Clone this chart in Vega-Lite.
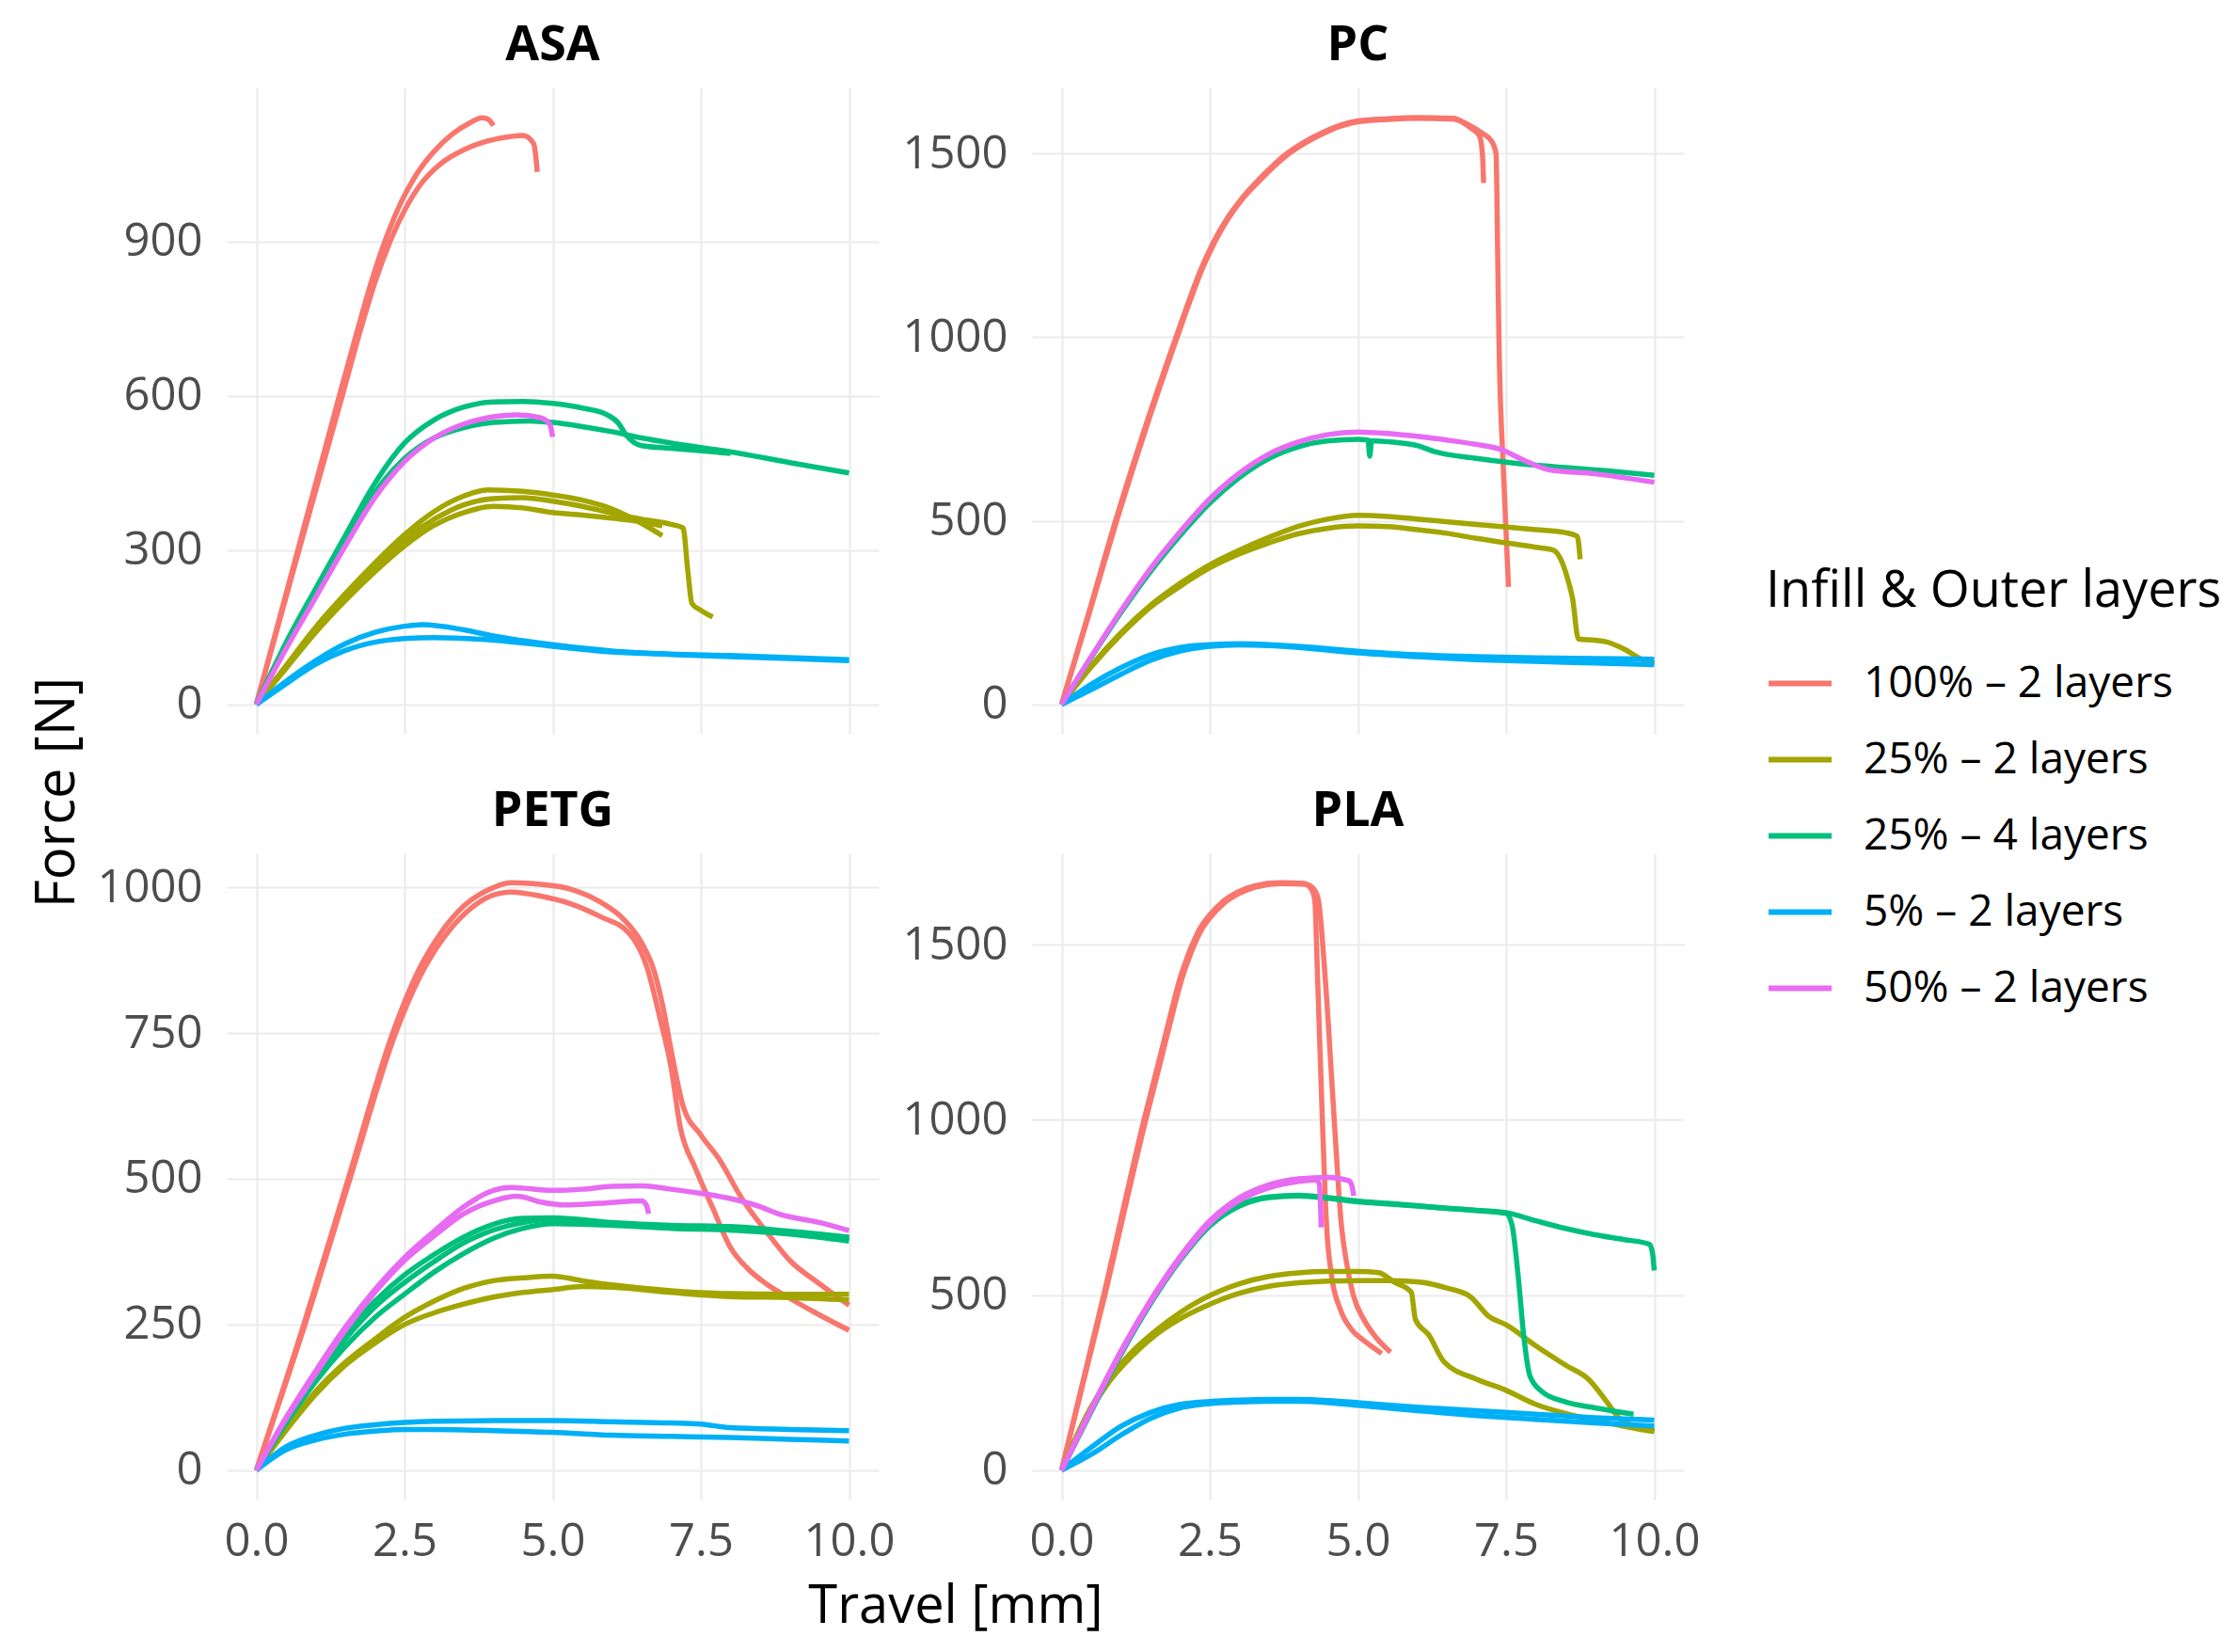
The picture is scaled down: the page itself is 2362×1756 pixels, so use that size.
{
  "$schema": "https://vega.github.io/schema/vega-lite/v6.json",
  "background": "white",
  "padding": {"left": 32, "top": 22, "right": 5, "bottom": 5},
  "data": {
    "values": [
      {"m":"ASA","g":"100% – 2 layers","r":1,"x":0,"y":0},
      {"m":"ASA","g":"100% – 2 layers","r":1,"x":0.7,"y":300},
      {"m":"ASA","g":"100% – 2 layers","r":1,"x":1.4,"y":600},
      {"m":"ASA","g":"100% – 2 layers","r":1,"x":1.7,"y":725},
      {"m":"ASA","g":"100% – 2 layers","r":1,"x":1.95,"y":825},
      {"m":"ASA","g":"100% – 2 layers","r":1,"x":2.2,"y":910},
      {"m":"ASA","g":"100% – 2 layers","r":1,"x":2.45,"y":978},
      {"m":"ASA","g":"100% – 2 layers","r":1,"x":2.7,"y":1030},
      {"m":"ASA","g":"100% – 2 layers","r":1,"x":3,"y":1075},
      {"m":"ASA","g":"100% – 2 layers","r":1,"x":3.3,"y":1108},
      {"m":"ASA","g":"100% – 2 layers","r":1,"x":3.6,"y":1130},
      {"m":"ASA","g":"100% – 2 layers","r":1,"x":3.8,"y":1140},
      {"m":"ASA","g":"100% – 2 layers","r":1,"x":3.9,"y":1138},
      {"m":"ASA","g":"100% – 2 layers","r":1,"x":4,"y":1125},
      {"m":"ASA","g":"100% – 2 layers","r":2,"x":0,"y":0},
      {"m":"ASA","g":"100% – 2 layers","r":2,"x":0.72,"y":300},
      {"m":"ASA","g":"100% – 2 layers","r":2,"x":1.45,"y":600},
      {"m":"ASA","g":"100% – 2 layers","r":2,"x":1.75,"y":725},
      {"m":"ASA","g":"100% – 2 layers","r":2,"x":2,"y":820},
      {"m":"ASA","g":"100% – 2 layers","r":2,"x":2.25,"y":898},
      {"m":"ASA","g":"100% – 2 layers","r":2,"x":2.5,"y":960},
      {"m":"ASA","g":"100% – 2 layers","r":2,"x":2.8,"y":1015},
      {"m":"ASA","g":"100% – 2 layers","r":2,"x":3.1,"y":1050},
      {"m":"ASA","g":"100% – 2 layers","r":2,"x":3.5,"y":1078},
      {"m":"ASA","g":"100% – 2 layers","r":2,"x":3.9,"y":1095},
      {"m":"ASA","g":"100% – 2 layers","r":2,"x":4.3,"y":1104},
      {"m":"ASA","g":"100% – 2 layers","r":2,"x":4.5,"y":1106},
      {"m":"ASA","g":"100% – 2 layers","r":2,"x":4.68,"y":1090},
      {"m":"ASA","g":"100% – 2 layers","r":2,"x":4.72,"y":1060},
      {"m":"ASA","g":"100% – 2 layers","r":2,"x":4.74,"y":1035},
      {"m":"ASA","g":"25% – 2 layers","r":1,"x":0,"y":0},
      {"m":"ASA","g":"25% – 2 layers","r":1,"x":0.5,"y":75},
      {"m":"ASA","g":"25% – 2 layers","r":1,"x":1,"y":150},
      {"m":"ASA","g":"25% – 2 layers","r":1,"x":1.5,"y":215},
      {"m":"ASA","g":"25% – 2 layers","r":1,"x":2,"y":275},
      {"m":"ASA","g":"25% – 2 layers","r":1,"x":2.5,"y":330},
      {"m":"ASA","g":"25% – 2 layers","r":1,"x":3,"y":375},
      {"m":"ASA","g":"25% – 2 layers","r":1,"x":3.5,"y":405},
      {"m":"ASA","g":"25% – 2 layers","r":1,"x":3.9,"y":417},
      {"m":"ASA","g":"25% – 2 layers","r":1,"x":4.5,"y":414},
      {"m":"ASA","g":"25% – 2 layers","r":1,"x":5,"y":407},
      {"m":"ASA","g":"25% – 2 layers","r":1,"x":5.5,"y":397},
      {"m":"ASA","g":"25% – 2 layers","r":1,"x":6,"y":380},
      {"m":"ASA","g":"25% – 2 layers","r":1,"x":6.5,"y":352},
      {"m":"ASA","g":"25% – 2 layers","r":1,"x":6.85,"y":328},
      {"m":"ASA","g":"25% – 2 layers","r":2,"x":0,"y":0},
      {"m":"ASA","g":"25% – 2 layers","r":2,"x":0.5,"y":72},
      {"m":"ASA","g":"25% – 2 layers","r":2,"x":1,"y":145},
      {"m":"ASA","g":"25% – 2 layers","r":2,"x":1.5,"y":210},
      {"m":"ASA","g":"25% – 2 layers","r":2,"x":2,"y":268},
      {"m":"ASA","g":"25% – 2 layers","r":2,"x":2.5,"y":320},
      {"m":"ASA","g":"25% – 2 layers","r":2,"x":3,"y":360},
      {"m":"ASA","g":"25% – 2 layers","r":2,"x":3.5,"y":388},
      {"m":"ASA","g":"25% – 2 layers","r":2,"x":4,"y":400},
      {"m":"ASA","g":"25% – 2 layers","r":2,"x":4.5,"y":402},
      {"m":"ASA","g":"25% – 2 layers","r":2,"x":5,"y":395},
      {"m":"ASA","g":"25% – 2 layers","r":2,"x":5.5,"y":385},
      {"m":"ASA","g":"25% – 2 layers","r":2,"x":6,"y":372},
      {"m":"ASA","g":"25% – 2 layers","r":2,"x":6.5,"y":360},
      {"m":"ASA","g":"25% – 2 layers","r":2,"x":7,"y":350},
      {"m":"ASA","g":"25% – 2 layers","r":2,"x":7.2,"y":343},
      {"m":"ASA","g":"25% – 2 layers","r":2,"x":7.28,"y":260},
      {"m":"ASA","g":"25% – 2 layers","r":2,"x":7.35,"y":196},
      {"m":"ASA","g":"25% – 2 layers","r":2,"x":7.5,"y":183},
      {"m":"ASA","g":"25% – 2 layers","r":2,"x":7.7,"y":170},
      {"m":"ASA","g":"25% – 2 layers","r":3,"x":0,"y":0},
      {"m":"ASA","g":"25% – 2 layers","r":3,"x":0.5,"y":70},
      {"m":"ASA","g":"25% – 2 layers","r":3,"x":1,"y":140},
      {"m":"ASA","g":"25% – 2 layers","r":3,"x":1.5,"y":202},
      {"m":"ASA","g":"25% – 2 layers","r":3,"x":2,"y":258},
      {"m":"ASA","g":"25% – 2 layers","r":3,"x":2.5,"y":308},
      {"m":"ASA","g":"25% – 2 layers","r":3,"x":3,"y":348},
      {"m":"ASA","g":"25% – 2 layers","r":3,"x":3.5,"y":373},
      {"m":"ASA","g":"25% – 2 layers","r":3,"x":4,"y":385},
      {"m":"ASA","g":"25% – 2 layers","r":3,"x":4.5,"y":382},
      {"m":"ASA","g":"25% – 2 layers","r":3,"x":5,"y":373},
      {"m":"ASA","g":"25% – 2 layers","r":3,"x":5.5,"y":368},
      {"m":"ASA","g":"25% – 2 layers","r":3,"x":6,"y":362},
      {"m":"ASA","g":"25% – 2 layers","r":3,"x":6.5,"y":355},
      {"m":"ASA","g":"25% – 2 layers","r":3,"x":6.85,"y":347},
      {"m":"ASA","g":"25% – 4 layers","r":1,"x":0,"y":0},
      {"m":"ASA","g":"25% – 4 layers","r":1,"x":0.5,"y":120},
      {"m":"ASA","g":"25% – 4 layers","r":1,"x":1,"y":225},
      {"m":"ASA","g":"25% – 4 layers","r":1,"x":1.5,"y":328},
      {"m":"ASA","g":"25% – 4 layers","r":1,"x":2,"y":430},
      {"m":"ASA","g":"25% – 4 layers","r":1,"x":2.5,"y":508},
      {"m":"ASA","g":"25% – 4 layers","r":1,"x":3,"y":553},
      {"m":"ASA","g":"25% – 4 layers","r":1,"x":3.5,"y":578},
      {"m":"ASA","g":"25% – 4 layers","r":1,"x":4,"y":588},
      {"m":"ASA","g":"25% – 4 layers","r":1,"x":4.5,"y":589},
      {"m":"ASA","g":"25% – 4 layers","r":1,"x":5,"y":585},
      {"m":"ASA","g":"25% – 4 layers","r":1,"x":5.5,"y":576},
      {"m":"ASA","g":"25% – 4 layers","r":1,"x":5.9,"y":564},
      {"m":"ASA","g":"25% – 4 layers","r":1,"x":6.1,"y":548},
      {"m":"ASA","g":"25% – 4 layers","r":1,"x":6.25,"y":522},
      {"m":"ASA","g":"25% – 4 layers","r":1,"x":6.5,"y":503},
      {"m":"ASA","g":"25% – 4 layers","r":1,"x":7,"y":498},
      {"m":"ASA","g":"25% – 4 layers","r":1,"x":8,"y":488},
      {"m":"ASA","g":"25% – 4 layers","r":2,"x":0,"y":0},
      {"m":"ASA","g":"25% – 4 layers","r":2,"x":0.5,"y":115},
      {"m":"ASA","g":"25% – 4 layers","r":2,"x":1,"y":215},
      {"m":"ASA","g":"25% – 4 layers","r":2,"x":1.5,"y":315},
      {"m":"ASA","g":"25% – 4 layers","r":2,"x":2,"y":412},
      {"m":"ASA","g":"25% – 4 layers","r":2,"x":2.5,"y":478},
      {"m":"ASA","g":"25% – 4 layers","r":2,"x":3,"y":518},
      {"m":"ASA","g":"25% – 4 layers","r":2,"x":3.5,"y":538},
      {"m":"ASA","g":"25% – 4 layers","r":2,"x":4,"y":548},
      {"m":"ASA","g":"25% – 4 layers","r":2,"x":4.6,"y":551},
      {"m":"ASA","g":"25% – 4 layers","r":2,"x":5,"y":548},
      {"m":"ASA","g":"25% – 4 layers","r":2,"x":5.5,"y":540},
      {"m":"ASA","g":"25% – 4 layers","r":2,"x":6,"y":530},
      {"m":"ASA","g":"25% – 4 layers","r":2,"x":6.5,"y":518},
      {"m":"ASA","g":"25% – 4 layers","r":2,"x":7,"y":508},
      {"m":"ASA","g":"25% – 4 layers","r":2,"x":8,"y":491},
      {"m":"ASA","g":"25% – 4 layers","r":2,"x":9,"y":470},
      {"m":"ASA","g":"25% – 4 layers","r":2,"x":10,"y":450},
      {"m":"ASA","g":"5% – 2 layers","r":1,"x":0,"y":0},
      {"m":"ASA","g":"5% – 2 layers","r":1,"x":0.5,"y":45},
      {"m":"ASA","g":"5% – 2 layers","r":1,"x":1,"y":85},
      {"m":"ASA","g":"5% – 2 layers","r":1,"x":1.5,"y":118},
      {"m":"ASA","g":"5% – 2 layers","r":1,"x":2,"y":140},
      {"m":"ASA","g":"5% – 2 layers","r":1,"x":2.5,"y":152},
      {"m":"ASA","g":"5% – 2 layers","r":1,"x":2.8,"y":155},
      {"m":"ASA","g":"5% – 2 layers","r":1,"x":3.5,"y":145},
      {"m":"ASA","g":"5% – 2 layers","r":1,"x":4,"y":133},
      {"m":"ASA","g":"5% – 2 layers","r":1,"x":5,"y":116},
      {"m":"ASA","g":"5% – 2 layers","r":1,"x":6,"y":104},
      {"m":"ASA","g":"5% – 2 layers","r":1,"x":7,"y":98},
      {"m":"ASA","g":"5% – 2 layers","r":1,"x":8,"y":95},
      {"m":"ASA","g":"5% – 2 layers","r":1,"x":9,"y":91},
      {"m":"ASA","g":"5% – 2 layers","r":1,"x":10,"y":87},
      {"m":"ASA","g":"5% – 2 layers","r":2,"x":0,"y":0},
      {"m":"ASA","g":"5% – 2 layers","r":2,"x":0.5,"y":40},
      {"m":"ASA","g":"5% – 2 layers","r":2,"x":1,"y":78},
      {"m":"ASA","g":"5% – 2 layers","r":2,"x":1.5,"y":105},
      {"m":"ASA","g":"5% – 2 layers","r":2,"x":2,"y":121},
      {"m":"ASA","g":"5% – 2 layers","r":2,"x":2.5,"y":128},
      {"m":"ASA","g":"5% – 2 layers","r":2,"x":3,"y":130},
      {"m":"ASA","g":"5% – 2 layers","r":2,"x":4,"y":125},
      {"m":"ASA","g":"5% – 2 layers","r":2,"x":5,"y":113},
      {"m":"ASA","g":"5% – 2 layers","r":2,"x":6,"y":102},
      {"m":"ASA","g":"5% – 2 layers","r":2,"x":7,"y":97},
      {"m":"ASA","g":"5% – 2 layers","r":2,"x":8,"y":93},
      {"m":"ASA","g":"5% – 2 layers","r":2,"x":9,"y":89},
      {"m":"ASA","g":"5% – 2 layers","r":2,"x":10,"y":85},
      {"m":"ASA","g":"50% – 2 layers","r":1,"x":0,"y":0},
      {"m":"ASA","g":"50% – 2 layers","r":1,"x":0.5,"y":108},
      {"m":"ASA","g":"50% – 2 layers","r":1,"x":1,"y":208},
      {"m":"ASA","g":"50% – 2 layers","r":1,"x":1.5,"y":308},
      {"m":"ASA","g":"50% – 2 layers","r":1,"x":2,"y":402},
      {"m":"ASA","g":"50% – 2 layers","r":1,"x":2.5,"y":472},
      {"m":"ASA","g":"50% – 2 layers","r":1,"x":3,"y":518},
      {"m":"ASA","g":"50% – 2 layers","r":1,"x":3.5,"y":545},
      {"m":"ASA","g":"50% – 2 layers","r":1,"x":4,"y":559},
      {"m":"ASA","g":"50% – 2 layers","r":1,"x":4.4,"y":563},
      {"m":"ASA","g":"50% – 2 layers","r":1,"x":4.8,"y":557},
      {"m":"ASA","g":"50% – 2 layers","r":1,"x":4.95,"y":545},
      {"m":"ASA","g":"50% – 2 layers","r":1,"x":5,"y":520},

      {"m":"PC","g":"100% – 2 layers","r":1,"x":0,"y":0},
      {"m":"PC","g":"100% – 2 layers","r":1,"x":0.45,"y":245},
      {"m":"PC","g":"100% – 2 layers","r":1,"x":0.9,"y":495},
      {"m":"PC","g":"100% – 2 layers","r":1,"x":1.4,"y":750},
      {"m":"PC","g":"100% – 2 layers","r":1,"x":1.93,"y":1000},
      {"m":"PC","g":"100% – 2 layers","r":1,"x":2.15,"y":1100},
      {"m":"PC","g":"100% – 2 layers","r":1,"x":2.35,"y":1185},
      {"m":"PC","g":"100% – 2 layers","r":1,"x":2.55,"y":1255},
      {"m":"PC","g":"100% – 2 layers","r":1,"x":2.8,"y":1325},
      {"m":"PC","g":"100% – 2 layers","r":1,"x":3.05,"y":1380},
      {"m":"PC","g":"100% – 2 layers","r":1,"x":3.3,"y":1425},
      {"m":"PC","g":"100% – 2 layers","r":1,"x":3.55,"y":1465},
      {"m":"PC","g":"100% – 2 layers","r":1,"x":3.8,"y":1500},
      {"m":"PC","g":"100% – 2 layers","r":1,"x":4.1,"y":1532},
      {"m":"PC","g":"100% – 2 layers","r":1,"x":4.4,"y":1557},
      {"m":"PC","g":"100% – 2 layers","r":1,"x":4.7,"y":1577},
      {"m":"PC","g":"100% – 2 layers","r":1,"x":5,"y":1589},
      {"m":"PC","g":"100% – 2 layers","r":1,"x":5.5,"y":1595},
      {"m":"PC","g":"100% – 2 layers","r":1,"x":6,"y":1598},
      {"m":"PC","g":"100% – 2 layers","r":1,"x":6.6,"y":1596},
      {"m":"PC","g":"100% – 2 layers","r":1,"x":6.9,"y":1570},
      {"m":"PC","g":"100% – 2 layers","r":1,"x":7.05,"y":1548},
      {"m":"PC","g":"100% – 2 layers","r":1,"x":7.1,"y":1500},
      {"m":"PC","g":"100% – 2 layers","r":1,"x":7.12,"y":1420},
      {"m":"PC","g":"100% – 2 layers","r":2,"x":0,"y":0},
      {"m":"PC","g":"100% – 2 layers","r":2,"x":0.46,"y":245},
      {"m":"PC","g":"100% – 2 layers","r":2,"x":0.92,"y":495},
      {"m":"PC","g":"100% – 2 layers","r":2,"x":1.42,"y":750},
      {"m":"PC","g":"100% – 2 layers","r":2,"x":1.95,"y":1000},
      {"m":"PC","g":"100% – 2 layers","r":2,"x":2.17,"y":1100},
      {"m":"PC","g":"100% – 2 layers","r":2,"x":2.37,"y":1185},
      {"m":"PC","g":"100% – 2 layers","r":2,"x":2.57,"y":1255},
      {"m":"PC","g":"100% – 2 layers","r":2,"x":2.82,"y":1325},
      {"m":"PC","g":"100% – 2 layers","r":2,"x":3.07,"y":1380},
      {"m":"PC","g":"100% – 2 layers","r":2,"x":3.32,"y":1423},
      {"m":"PC","g":"100% – 2 layers","r":2,"x":3.57,"y":1463},
      {"m":"PC","g":"100% – 2 layers","r":2,"x":3.82,"y":1498},
      {"m":"PC","g":"100% – 2 layers","r":2,"x":4.12,"y":1530},
      {"m":"PC","g":"100% – 2 layers","r":2,"x":4.42,"y":1555},
      {"m":"PC","g":"100% – 2 layers","r":2,"x":4.72,"y":1575},
      {"m":"PC","g":"100% – 2 layers","r":2,"x":5.02,"y":1587},
      {"m":"PC","g":"100% – 2 layers","r":2,"x":5.5,"y":1593},
      {"m":"PC","g":"100% – 2 layers","r":2,"x":6,"y":1596},
      {"m":"PC","g":"100% – 2 layers","r":2,"x":6.6,"y":1594},
      {"m":"PC","g":"100% – 2 layers","r":2,"x":6.9,"y":1575},
      {"m":"PC","g":"100% – 2 layers","r":2,"x":7.1,"y":1555},
      {"m":"PC","g":"100% – 2 layers","r":2,"x":7.25,"y":1535},
      {"m":"PC","g":"100% – 2 layers","r":2,"x":7.33,"y":1500},
      {"m":"PC","g":"100% – 2 layers","r":2,"x":7.36,"y":1200},
      {"m":"PC","g":"100% – 2 layers","r":2,"x":7.38,"y":990},
      {"m":"PC","g":"100% – 2 layers","r":2,"x":7.45,"y":650},
      {"m":"PC","g":"100% – 2 layers","r":2,"x":7.54,"y":320},
      {"m":"PC","g":"25% – 2 layers","r":1,"x":0,"y":0},
      {"m":"PC","g":"25% – 2 layers","r":1,"x":0.5,"y":105},
      {"m":"PC","g":"25% – 2 layers","r":1,"x":1,"y":195},
      {"m":"PC","g":"25% – 2 layers","r":1,"x":1.5,"y":270},
      {"m":"PC","g":"25% – 2 layers","r":1,"x":2,"y":330},
      {"m":"PC","g":"25% – 2 layers","r":1,"x":2.5,"y":380},
      {"m":"PC","g":"25% – 2 layers","r":1,"x":3,"y":420},
      {"m":"PC","g":"25% – 2 layers","r":1,"x":3.5,"y":455},
      {"m":"PC","g":"25% – 2 layers","r":1,"x":4,"y":485},
      {"m":"PC","g":"25% – 2 layers","r":1,"x":4.5,"y":505},
      {"m":"PC","g":"25% – 2 layers","r":1,"x":5,"y":515},
      {"m":"PC","g":"25% – 2 layers","r":1,"x":5.5,"y":512},
      {"m":"PC","g":"25% – 2 layers","r":1,"x":6,"y":505},
      {"m":"PC","g":"25% – 2 layers","r":1,"x":7,"y":490},
      {"m":"PC","g":"25% – 2 layers","r":1,"x":8,"y":476},
      {"m":"PC","g":"25% – 2 layers","r":1,"x":8.5,"y":468},
      {"m":"PC","g":"25% – 2 layers","r":1,"x":8.7,"y":458},
      {"m":"PC","g":"25% – 2 layers","r":1,"x":8.75,"y":395},
      {"m":"PC","g":"25% – 2 layers","r":2,"x":0,"y":0},
      {"m":"PC","g":"25% – 2 layers","r":2,"x":0.5,"y":102},
      {"m":"PC","g":"25% – 2 layers","r":2,"x":1,"y":190},
      {"m":"PC","g":"25% – 2 layers","r":2,"x":1.5,"y":265},
      {"m":"PC","g":"25% – 2 layers","r":2,"x":2,"y":322},
      {"m":"PC","g":"25% – 2 layers","r":2,"x":2.5,"y":372},
      {"m":"PC","g":"25% – 2 layers","r":2,"x":3,"y":410},
      {"m":"PC","g":"25% – 2 layers","r":2,"x":3.5,"y":440},
      {"m":"PC","g":"25% – 2 layers","r":2,"x":4,"y":465},
      {"m":"PC","g":"25% – 2 layers","r":2,"x":4.5,"y":480},
      {"m":"PC","g":"25% – 2 layers","r":2,"x":5,"y":486},
      {"m":"PC","g":"25% – 2 layers","r":2,"x":5.5,"y":484},
      {"m":"PC","g":"25% – 2 layers","r":2,"x":6,"y":476},
      {"m":"PC","g":"25% – 2 layers","r":2,"x":6.5,"y":466},
      {"m":"PC","g":"25% – 2 layers","r":2,"x":7,"y":452},
      {"m":"PC","g":"25% – 2 layers","r":2,"x":7.5,"y":440},
      {"m":"PC","g":"25% – 2 layers","r":2,"x":8,"y":428},
      {"m":"PC","g":"25% – 2 layers","r":2,"x":8.3,"y":420},
      {"m":"PC","g":"25% – 2 layers","r":2,"x":8.45,"y":385},
      {"m":"PC","g":"25% – 2 layers","r":2,"x":8.55,"y":335},
      {"m":"PC","g":"25% – 2 layers","r":2,"x":8.62,"y":290},
      {"m":"PC","g":"25% – 2 layers","r":2,"x":8.72,"y":178},
      {"m":"PC","g":"25% – 2 layers","r":2,"x":9,"y":175},
      {"m":"PC","g":"25% – 2 layers","r":2,"x":9.2,"y":170},
      {"m":"PC","g":"25% – 2 layers","r":2,"x":9.5,"y":150},
      {"m":"PC","g":"25% – 2 layers","r":2,"x":9.8,"y":122},
      {"m":"PC","g":"25% – 2 layers","r":2,"x":10,"y":112},
      {"m":"PC","g":"25% – 4 layers","r":1,"x":0,"y":0},
      {"m":"PC","g":"25% – 4 layers","r":1,"x":0.5,"y":128},
      {"m":"PC","g":"25% – 4 layers","r":1,"x":1,"y":250},
      {"m":"PC","g":"25% – 4 layers","r":1,"x":1.5,"y":362},
      {"m":"PC","g":"25% – 4 layers","r":1,"x":2,"y":460},
      {"m":"PC","g":"25% – 4 layers","r":1,"x":2.5,"y":548},
      {"m":"PC","g":"25% – 4 layers","r":1,"x":3,"y":618},
      {"m":"PC","g":"25% – 4 layers","r":1,"x":3.5,"y":670},
      {"m":"PC","g":"25% – 4 layers","r":1,"x":4,"y":702},
      {"m":"PC","g":"25% – 4 layers","r":1,"x":4.5,"y":718},
      {"m":"PC","g":"25% – 4 layers","r":1,"x":5,"y":722},
      {"m":"PC","g":"25% – 4 layers","r":1,"x":5.17,"y":720},
      {"m":"PC","g":"25% – 4 layers","r":1,"x":5.2,"y":676},
      {"m":"PC","g":"25% – 4 layers","r":1,"x":5.23,"y":718},
      {"m":"PC","g":"25% – 4 layers","r":1,"x":5.6,"y":714},
      {"m":"PC","g":"25% – 4 layers","r":1,"x":6,"y":705},
      {"m":"PC","g":"25% – 4 layers","r":1,"x":6.3,"y":688},
      {"m":"PC","g":"25% – 4 layers","r":1,"x":7,"y":670},
      {"m":"PC","g":"25% – 4 layers","r":1,"x":7.6,"y":658},
      {"m":"PC","g":"25% – 4 layers","r":1,"x":8.5,"y":645},
      {"m":"PC","g":"25% – 4 layers","r":1,"x":9.3,"y":635},
      {"m":"PC","g":"25% – 4 layers","r":1,"x":10,"y":624},
      {"m":"PC","g":"5% – 2 layers","r":1,"x":0,"y":0},
      {"m":"PC","g":"5% – 2 layers","r":1,"x":0.5,"y":55},
      {"m":"PC","g":"5% – 2 layers","r":1,"x":1,"y":100},
      {"m":"PC","g":"5% – 2 layers","r":1,"x":1.5,"y":135},
      {"m":"PC","g":"5% – 2 layers","r":1,"x":2,"y":155},
      {"m":"PC","g":"5% – 2 layers","r":1,"x":2.5,"y":163},
      {"m":"PC","g":"5% – 2 layers","r":1,"x":3,"y":165},
      {"m":"PC","g":"5% – 2 layers","r":1,"x":3.5,"y":163},
      {"m":"PC","g":"5% – 2 layers","r":1,"x":4,"y":158},
      {"m":"PC","g":"5% – 2 layers","r":1,"x":5,"y":145},
      {"m":"PC","g":"5% – 2 layers","r":1,"x":6,"y":135},
      {"m":"PC","g":"5% – 2 layers","r":1,"x":7,"y":130},
      {"m":"PC","g":"5% – 2 layers","r":1,"x":8,"y":127},
      {"m":"PC","g":"5% – 2 layers","r":1,"x":9,"y":125},
      {"m":"PC","g":"5% – 2 layers","r":1,"x":10,"y":123},
      {"m":"PC","g":"5% – 2 layers","r":2,"x":0,"y":0},
      {"m":"PC","g":"5% – 2 layers","r":2,"x":0.5,"y":40},
      {"m":"PC","g":"5% – 2 layers","r":2,"x":1,"y":82},
      {"m":"PC","g":"5% – 2 layers","r":2,"x":1.5,"y":120},
      {"m":"PC","g":"5% – 2 layers","r":2,"x":2,"y":145},
      {"m":"PC","g":"5% – 2 layers","r":2,"x":2.5,"y":158},
      {"m":"PC","g":"5% – 2 layers","r":2,"x":3,"y":162},
      {"m":"PC","g":"5% – 2 layers","r":2,"x":3.5,"y":160},
      {"m":"PC","g":"5% – 2 layers","r":2,"x":4,"y":155},
      {"m":"PC","g":"5% – 2 layers","r":2,"x":5,"y":140},
      {"m":"PC","g":"5% – 2 layers","r":2,"x":6,"y":130},
      {"m":"PC","g":"5% – 2 layers","r":2,"x":7,"y":122},
      {"m":"PC","g":"5% – 2 layers","r":2,"x":8,"y":117},
      {"m":"PC","g":"5% – 2 layers","r":2,"x":9,"y":113},
      {"m":"PC","g":"5% – 2 layers","r":2,"x":10,"y":108},
      {"m":"PC","g":"50% – 2 layers","r":1,"x":0,"y":0},
      {"m":"PC","g":"50% – 2 layers","r":1,"x":0.5,"y":130},
      {"m":"PC","g":"50% – 2 layers","r":1,"x":1,"y":255},
      {"m":"PC","g":"50% – 2 layers","r":1,"x":1.5,"y":370},
      {"m":"PC","g":"50% – 2 layers","r":1,"x":2,"y":470},
      {"m":"PC","g":"50% – 2 layers","r":1,"x":2.5,"y":560},
      {"m":"PC","g":"50% – 2 layers","r":1,"x":3,"y":630},
      {"m":"PC","g":"50% – 2 layers","r":1,"x":3.5,"y":682},
      {"m":"PC","g":"50% – 2 layers","r":1,"x":4,"y":715},
      {"m":"PC","g":"50% – 2 layers","r":1,"x":4.5,"y":735},
      {"m":"PC","g":"50% – 2 layers","r":1,"x":5,"y":742},
      {"m":"PC","g":"50% – 2 layers","r":1,"x":5.5,"y":738},
      {"m":"PC","g":"50% – 2 layers","r":1,"x":6,"y":730},
      {"m":"PC","g":"50% – 2 layers","r":1,"x":6.5,"y":720},
      {"m":"PC","g":"50% – 2 layers","r":1,"x":7,"y":708},
      {"m":"PC","g":"50% – 2 layers","r":1,"x":7.4,"y":695},
      {"m":"PC","g":"50% – 2 layers","r":1,"x":7.8,"y":665},
      {"m":"PC","g":"50% – 2 layers","r":1,"x":8.2,"y":640},
      {"m":"PC","g":"50% – 2 layers","r":1,"x":9,"y":628},
      {"m":"PC","g":"50% – 2 layers","r":1,"x":10,"y":605},

      {"m":"PETG","g":"100% – 2 layers","r":1,"x":0,"y":0},
      {"m":"PETG","g":"100% – 2 layers","r":1,"x":0.8,"y":250},
      {"m":"PETG","g":"100% – 2 layers","r":1,"x":1.55,"y":500},
      {"m":"PETG","g":"100% – 2 layers","r":1,"x":2.3,"y":750},
      {"m":"PETG","g":"100% – 2 layers","r":1,"x":2.7,"y":850},
      {"m":"PETG","g":"100% – 2 layers","r":1,"x":3.1,"y":920},
      {"m":"PETG","g":"100% – 2 layers","r":1,"x":3.5,"y":968},
      {"m":"PETG","g":"100% – 2 layers","r":1,"x":3.9,"y":995},
      {"m":"PETG","g":"100% – 2 layers","r":1,"x":4.3,"y":1008},
      {"m":"PETG","g":"100% – 2 layers","r":1,"x":4.8,"y":1005},
      {"m":"PETG","g":"100% – 2 layers","r":1,"x":5.3,"y":997},
      {"m":"PETG","g":"100% – 2 layers","r":1,"x":5.8,"y":975},
      {"m":"PETG","g":"100% – 2 layers","r":1,"x":6.2,"y":945},
      {"m":"PETG","g":"100% – 2 layers","r":1,"x":6.5,"y":905},
      {"m":"PETG","g":"100% – 2 layers","r":1,"x":6.7,"y":860},
      {"m":"PETG","g":"100% – 2 layers","r":1,"x":6.85,"y":800},
      {"m":"PETG","g":"100% – 2 layers","r":1,"x":7,"y":720},
      {"m":"PETG","g":"100% – 2 layers","r":1,"x":7.2,"y":625},
      {"m":"PETG","g":"100% – 2 layers","r":1,"x":7.5,"y":575},
      {"m":"PETG","g":"100% – 2 layers","r":1,"x":7.8,"y":535},
      {"m":"PETG","g":"100% – 2 layers","r":1,"x":8.2,"y":465},
      {"m":"PETG","g":"100% – 2 layers","r":1,"x":8.6,"y":410},
      {"m":"PETG","g":"100% – 2 layers","r":1,"x":9,"y":360},
      {"m":"PETG","g":"100% – 2 layers","r":1,"x":9.5,"y":320},
      {"m":"PETG","g":"100% – 2 layers","r":1,"x":10,"y":283},
      {"m":"PETG","g":"100% – 2 layers","r":2,"x":0,"y":0},
      {"m":"PETG","g":"100% – 2 layers","r":2,"x":0.82,"y":250},
      {"m":"PETG","g":"100% – 2 layers","r":2,"x":1.58,"y":500},
      {"m":"PETG","g":"100% – 2 layers","r":2,"x":2.35,"y":750},
      {"m":"PETG","g":"100% – 2 layers","r":2,"x":2.75,"y":845},
      {"m":"PETG","g":"100% – 2 layers","r":2,"x":3.15,"y":912},
      {"m":"PETG","g":"100% – 2 layers","r":2,"x":3.55,"y":958},
      {"m":"PETG","g":"100% – 2 layers","r":2,"x":3.95,"y":985},
      {"m":"PETG","g":"100% – 2 layers","r":2,"x":4.3,"y":992},
      {"m":"PETG","g":"100% – 2 layers","r":2,"x":4.8,"y":985},
      {"m":"PETG","g":"100% – 2 layers","r":2,"x":5.3,"y":972},
      {"m":"PETG","g":"100% – 2 layers","r":2,"x":5.8,"y":950},
      {"m":"PETG","g":"100% – 2 layers","r":2,"x":6.3,"y":920},
      {"m":"PETG","g":"100% – 2 layers","r":2,"x":6.6,"y":860},
      {"m":"PETG","g":"100% – 2 layers","r":2,"x":6.8,"y":780},
      {"m":"PETG","g":"100% – 2 layers","r":2,"x":7,"y":690},
      {"m":"PETG","g":"100% – 2 layers","r":2,"x":7.15,"y":590},
      {"m":"PETG","g":"100% – 2 layers","r":2,"x":7.4,"y":520},
      {"m":"PETG","g":"100% – 2 layers","r":2,"x":7.7,"y":450},
      {"m":"PETG","g":"100% – 2 layers","r":2,"x":8,"y":382},
      {"m":"PETG","g":"100% – 2 layers","r":2,"x":8.3,"y":345},
      {"m":"PETG","g":"100% – 2 layers","r":2,"x":8.6,"y":320},
      {"m":"PETG","g":"100% – 2 layers","r":2,"x":9,"y":295},
      {"m":"PETG","g":"100% – 2 layers","r":2,"x":9.4,"y":272},
      {"m":"PETG","g":"100% – 2 layers","r":2,"x":10,"y":240},
      {"m":"PETG","g":"25% – 2 layers","r":1,"x":0,"y":0},
      {"m":"PETG","g":"25% – 2 layers","r":1,"x":0.5,"y":70},
      {"m":"PETG","g":"25% – 2 layers","r":1,"x":1,"y":135},
      {"m":"PETG","g":"25% – 2 layers","r":1,"x":1.5,"y":185},
      {"m":"PETG","g":"25% – 2 layers","r":1,"x":2,"y":225},
      {"m":"PETG","g":"25% – 2 layers","r":1,"x":2.5,"y":262},
      {"m":"PETG","g":"25% – 2 layers","r":1,"x":3,"y":290},
      {"m":"PETG","g":"25% – 2 layers","r":1,"x":3.5,"y":312},
      {"m":"PETG","g":"25% – 2 layers","r":1,"x":4,"y":325},
      {"m":"PETG","g":"25% – 2 layers","r":1,"x":4.5,"y":330},
      {"m":"PETG","g":"25% – 2 layers","r":1,"x":5,"y":333},
      {"m":"PETG","g":"25% – 2 layers","r":1,"x":5.5,"y":325},
      {"m":"PETG","g":"25% – 2 layers","r":1,"x":6,"y":318},
      {"m":"PETG","g":"25% – 2 layers","r":1,"x":7,"y":308},
      {"m":"PETG","g":"25% – 2 layers","r":1,"x":8,"y":303},
      {"m":"PETG","g":"25% – 2 layers","r":1,"x":9,"y":302},
      {"m":"PETG","g":"25% – 2 layers","r":1,"x":10,"y":302},
      {"m":"PETG","g":"25% – 2 layers","r":2,"x":0,"y":0},
      {"m":"PETG","g":"25% – 2 layers","r":2,"x":0.5,"y":68},
      {"m":"PETG","g":"25% – 2 layers","r":2,"x":1,"y":130},
      {"m":"PETG","g":"25% – 2 layers","r":2,"x":1.5,"y":180},
      {"m":"PETG","g":"25% – 2 layers","r":2,"x":2,"y":218},
      {"m":"PETG","g":"25% – 2 layers","r":2,"x":2.5,"y":250},
      {"m":"PETG","g":"25% – 2 layers","r":2,"x":3,"y":270},
      {"m":"PETG","g":"25% – 2 layers","r":2,"x":3.5,"y":285},
      {"m":"PETG","g":"25% – 2 layers","r":2,"x":4,"y":297},
      {"m":"PETG","g":"25% – 2 layers","r":2,"x":4.5,"y":305},
      {"m":"PETG","g":"25% – 2 layers","r":2,"x":5,"y":310},
      {"m":"PETG","g":"25% – 2 layers","r":2,"x":5.5,"y":315},
      {"m":"PETG","g":"25% – 2 layers","r":2,"x":6,"y":314},
      {"m":"PETG","g":"25% – 2 layers","r":2,"x":7,"y":305},
      {"m":"PETG","g":"25% – 2 layers","r":2,"x":8,"y":298},
      {"m":"PETG","g":"25% – 2 layers","r":2,"x":9,"y":296},
      {"m":"PETG","g":"25% – 2 layers","r":2,"x":10,"y":292},
      {"m":"PETG","g":"25% – 4 layers","r":1,"x":0,"y":0},
      {"m":"PETG","g":"25% – 4 layers","r":1,"x":0.5,"y":85},
      {"m":"PETG","g":"25% – 4 layers","r":1,"x":1,"y":165},
      {"m":"PETG","g":"25% – 4 layers","r":1,"x":1.5,"y":235},
      {"m":"PETG","g":"25% – 4 layers","r":1,"x":2,"y":290},
      {"m":"PETG","g":"25% – 4 layers","r":1,"x":2.5,"y":335},
      {"m":"PETG","g":"25% – 4 layers","r":1,"x":3,"y":370},
      {"m":"PETG","g":"25% – 4 layers","r":1,"x":3.5,"y":400},
      {"m":"PETG","g":"25% – 4 layers","r":1,"x":4,"y":422},
      {"m":"PETG","g":"25% – 4 layers","r":1,"x":4.5,"y":432},
      {"m":"PETG","g":"25% – 4 layers","r":1,"x":5,"y":433},
      {"m":"PETG","g":"25% – 4 layers","r":1,"x":6,"y":425},
      {"m":"PETG","g":"25% – 4 layers","r":1,"x":7,"y":420},
      {"m":"PETG","g":"25% – 4 layers","r":1,"x":8,"y":418},
      {"m":"PETG","g":"25% – 4 layers","r":1,"x":9,"y":410},
      {"m":"PETG","g":"25% – 4 layers","r":1,"x":10,"y":400},
      {"m":"PETG","g":"25% – 4 layers","r":2,"x":0,"y":0},
      {"m":"PETG","g":"25% – 4 layers","r":2,"x":0.5,"y":82},
      {"m":"PETG","g":"25% – 4 layers","r":2,"x":1,"y":160},
      {"m":"PETG","g":"25% – 4 layers","r":2,"x":1.5,"y":225},
      {"m":"PETG","g":"25% – 4 layers","r":2,"x":2,"y":280},
      {"m":"PETG","g":"25% – 4 layers","r":2,"x":2.5,"y":322},
      {"m":"PETG","g":"25% – 4 layers","r":2,"x":3,"y":358},
      {"m":"PETG","g":"25% – 4 layers","r":2,"x":3.5,"y":390},
      {"m":"PETG","g":"25% – 4 layers","r":2,"x":4,"y":412},
      {"m":"PETG","g":"25% – 4 layers","r":2,"x":4.5,"y":425},
      {"m":"PETG","g":"25% – 4 layers","r":2,"x":5,"y":430},
      {"m":"PETG","g":"25% – 4 layers","r":2,"x":6,"y":422},
      {"m":"PETG","g":"25% – 4 layers","r":2,"x":7,"y":418},
      {"m":"PETG","g":"25% – 4 layers","r":2,"x":8,"y":415},
      {"m":"PETG","g":"25% – 4 layers","r":2,"x":9,"y":408},
      {"m":"PETG","g":"25% – 4 layers","r":2,"x":10,"y":398},
      {"m":"PETG","g":"25% – 4 layers","r":3,"x":0,"y":0},
      {"m":"PETG","g":"25% – 4 layers","r":3,"x":0.5,"y":80},
      {"m":"PETG","g":"25% – 4 layers","r":3,"x":1,"y":152},
      {"m":"PETG","g":"25% – 4 layers","r":3,"x":1.5,"y":212},
      {"m":"PETG","g":"25% – 4 layers","r":3,"x":2,"y":262},
      {"m":"PETG","g":"25% – 4 layers","r":3,"x":2.5,"y":302},
      {"m":"PETG","g":"25% – 4 layers","r":3,"x":3,"y":340},
      {"m":"PETG","g":"25% – 4 layers","r":3,"x":3.5,"y":372},
      {"m":"PETG","g":"25% – 4 layers","r":3,"x":4,"y":398},
      {"m":"PETG","g":"25% – 4 layers","r":3,"x":4.5,"y":415},
      {"m":"PETG","g":"25% – 4 layers","r":3,"x":5,"y":423},
      {"m":"PETG","g":"25% – 4 layers","r":3,"x":6,"y":420},
      {"m":"PETG","g":"25% – 4 layers","r":3,"x":7,"y":415},
      {"m":"PETG","g":"25% – 4 layers","r":3,"x":8,"y":412},
      {"m":"PETG","g":"25% – 4 layers","r":3,"x":9,"y":405},
      {"m":"PETG","g":"25% – 4 layers","r":3,"x":10,"y":393},
      {"m":"PETG","g":"5% – 2 layers","r":1,"x":0,"y":0},
      {"m":"PETG","g":"5% – 2 layers","r":1,"x":0.5,"y":40},
      {"m":"PETG","g":"5% – 2 layers","r":1,"x":1,"y":60},
      {"m":"PETG","g":"5% – 2 layers","r":1,"x":1.5,"y":72},
      {"m":"PETG","g":"5% – 2 layers","r":1,"x":2,"y":78},
      {"m":"PETG","g":"5% – 2 layers","r":1,"x":2.5,"y":82},
      {"m":"PETG","g":"5% – 2 layers","r":1,"x":3,"y":84},
      {"m":"PETG","g":"5% – 2 layers","r":1,"x":4,"y":85},
      {"m":"PETG","g":"5% – 2 layers","r":1,"x":5,"y":85},
      {"m":"PETG","g":"5% – 2 layers","r":1,"x":6,"y":83},
      {"m":"PETG","g":"5% – 2 layers","r":1,"x":7,"y":81},
      {"m":"PETG","g":"5% – 2 layers","r":1,"x":7.5,"y":79},
      {"m":"PETG","g":"5% – 2 layers","r":1,"x":8,"y":73},
      {"m":"PETG","g":"5% – 2 layers","r":1,"x":9,"y":70},
      {"m":"PETG","g":"5% – 2 layers","r":1,"x":10,"y":68},
      {"m":"PETG","g":"5% – 2 layers","r":2,"x":0,"y":0},
      {"m":"PETG","g":"5% – 2 layers","r":2,"x":0.5,"y":35},
      {"m":"PETG","g":"5% – 2 layers","r":2,"x":1,"y":52},
      {"m":"PETG","g":"5% – 2 layers","r":2,"x":1.5,"y":62},
      {"m":"PETG","g":"5% – 2 layers","r":2,"x":2,"y":67},
      {"m":"PETG","g":"5% – 2 layers","r":2,"x":2.5,"y":70},
      {"m":"PETG","g":"5% – 2 layers","r":2,"x":3,"y":70},
      {"m":"PETG","g":"5% – 2 layers","r":2,"x":4,"y":68},
      {"m":"PETG","g":"5% – 2 layers","r":2,"x":5,"y":65},
      {"m":"PETG","g":"5% – 2 layers","r":2,"x":6,"y":60},
      {"m":"PETG","g":"5% – 2 layers","r":2,"x":7,"y":58},
      {"m":"PETG","g":"5% – 2 layers","r":2,"x":8,"y":56},
      {"m":"PETG","g":"5% – 2 layers","r":2,"x":9,"y":53},
      {"m":"PETG","g":"5% – 2 layers","r":2,"x":10,"y":50},
      {"m":"PETG","g":"50% – 2 layers","r":1,"x":0,"y":0},
      {"m":"PETG","g":"50% – 2 layers","r":1,"x":0.5,"y":90},
      {"m":"PETG","g":"50% – 2 layers","r":1,"x":1,"y":170},
      {"m":"PETG","g":"50% – 2 layers","r":1,"x":1.5,"y":245},
      {"m":"PETG","g":"50% – 2 layers","r":1,"x":2,"y":310},
      {"m":"PETG","g":"50% – 2 layers","r":1,"x":2.5,"y":365},
      {"m":"PETG","g":"50% – 2 layers","r":1,"x":3,"y":410},
      {"m":"PETG","g":"50% – 2 layers","r":1,"x":3.5,"y":452},
      {"m":"PETG","g":"50% – 2 layers","r":1,"x":4,"y":480},
      {"m":"PETG","g":"50% – 2 layers","r":1,"x":4.3,"y":485},
      {"m":"PETG","g":"50% – 2 layers","r":1,"x":5,"y":480},
      {"m":"PETG","g":"50% – 2 layers","r":1,"x":5.5,"y":482},
      {"m":"PETG","g":"50% – 2 layers","r":1,"x":6,"y":487},
      {"m":"PETG","g":"50% – 2 layers","r":1,"x":6.5,"y":488},
      {"m":"PETG","g":"50% – 2 layers","r":1,"x":7,"y":482},
      {"m":"PETG","g":"50% – 2 layers","r":1,"x":7.5,"y":475},
      {"m":"PETG","g":"50% – 2 layers","r":1,"x":8,"y":466},
      {"m":"PETG","g":"50% – 2 layers","r":1,"x":8.5,"y":452},
      {"m":"PETG","g":"50% – 2 layers","r":1,"x":8.8,"y":440},
      {"m":"PETG","g":"50% – 2 layers","r":1,"x":9.5,"y":425},
      {"m":"PETG","g":"50% – 2 layers","r":1,"x":10,"y":411},
      {"m":"PETG","g":"50% – 2 layers","r":2,"x":0,"y":0},
      {"m":"PETG","g":"50% – 2 layers","r":2,"x":0.5,"y":88},
      {"m":"PETG","g":"50% – 2 layers","r":2,"x":1,"y":165},
      {"m":"PETG","g":"50% – 2 layers","r":2,"x":1.5,"y":240},
      {"m":"PETG","g":"50% – 2 layers","r":2,"x":2,"y":305},
      {"m":"PETG","g":"50% – 2 layers","r":2,"x":2.5,"y":360},
      {"m":"PETG","g":"50% – 2 layers","r":2,"x":3,"y":402},
      {"m":"PETG","g":"50% – 2 layers","r":2,"x":3.5,"y":440},
      {"m":"PETG","g":"50% – 2 layers","r":2,"x":4,"y":462},
      {"m":"PETG","g":"50% – 2 layers","r":2,"x":4.4,"y":470},
      {"m":"PETG","g":"50% – 2 layers","r":2,"x":4.8,"y":460},
      {"m":"PETG","g":"50% – 2 layers","r":2,"x":5.2,"y":455},
      {"m":"PETG","g":"50% – 2 layers","r":2,"x":5.8,"y":458},
      {"m":"PETG","g":"50% – 2 layers","r":2,"x":6.5,"y":462},
      {"m":"PETG","g":"50% – 2 layers","r":2,"x":6.58,"y":455},
      {"m":"PETG","g":"50% – 2 layers","r":2,"x":6.62,"y":440},

      {"m":"PLA","g":"100% – 2 layers","r":1,"x":0,"y":0},
      {"m":"PLA","g":"100% – 2 layers","r":1,"x":0.71,"y":500},
      {"m":"PLA","g":"100% – 2 layers","r":1,"x":1.39,"y":1000},
      {"m":"PLA","g":"100% – 2 layers","r":1,"x":1.6,"y":1140},
      {"m":"PLA","g":"100% – 2 layers","r":1,"x":1.8,"y":1275},
      {"m":"PLA","g":"100% – 2 layers","r":1,"x":2,"y":1405},
      {"m":"PLA","g":"100% – 2 layers","r":1,"x":2.18,"y":1490},
      {"m":"PLA","g":"100% – 2 layers","r":1,"x":2.33,"y":1545},
      {"m":"PLA","g":"100% – 2 layers","r":1,"x":2.5,"y":1585},
      {"m":"PLA","g":"100% – 2 layers","r":1,"x":2.7,"y":1620},
      {"m":"PLA","g":"100% – 2 layers","r":1,"x":2.95,"y":1648},
      {"m":"PLA","g":"100% – 2 layers","r":1,"x":3.25,"y":1668},
      {"m":"PLA","g":"100% – 2 layers","r":1,"x":3.7,"y":1677},
      {"m":"PLA","g":"100% – 2 layers","r":1,"x":4.08,"y":1675},
      {"m":"PLA","g":"100% – 2 layers","r":1,"x":4.2,"y":1662},
      {"m":"PLA","g":"100% – 2 layers","r":1,"x":4.27,"y":1630},
      {"m":"PLA","g":"100% – 2 layers","r":1,"x":4.32,"y":1400},
      {"m":"PLA","g":"100% – 2 layers","r":1,"x":4.4,"y":1000},
      {"m":"PLA","g":"100% – 2 layers","r":1,"x":4.47,"y":700},
      {"m":"PLA","g":"100% – 2 layers","r":1,"x":4.55,"y":560},
      {"m":"PLA","g":"100% – 2 layers","r":1,"x":4.7,"y":460},
      {"m":"PLA","g":"100% – 2 layers","r":1,"x":4.9,"y":400},
      {"m":"PLA","g":"100% – 2 layers","r":1,"x":5.1,"y":370},
      {"m":"PLA","g":"100% – 2 layers","r":1,"x":5.4,"y":333},
      {"m":"PLA","g":"100% – 2 layers","r":2,"x":0,"y":0},
      {"m":"PLA","g":"100% – 2 layers","r":2,"x":0.73,"y":500},
      {"m":"PLA","g":"100% – 2 layers","r":2,"x":1.42,"y":1000},
      {"m":"PLA","g":"100% – 2 layers","r":2,"x":1.63,"y":1140},
      {"m":"PLA","g":"100% – 2 layers","r":2,"x":1.83,"y":1275},
      {"m":"PLA","g":"100% – 2 layers","r":2,"x":2.03,"y":1403},
      {"m":"PLA","g":"100% – 2 layers","r":2,"x":2.21,"y":1488},
      {"m":"PLA","g":"100% – 2 layers","r":2,"x":2.36,"y":1542},
      {"m":"PLA","g":"100% – 2 layers","r":2,"x":2.53,"y":1582},
      {"m":"PLA","g":"100% – 2 layers","r":2,"x":2.73,"y":1617},
      {"m":"PLA","g":"100% – 2 layers","r":2,"x":2.98,"y":1645},
      {"m":"PLA","g":"100% – 2 layers","r":2,"x":3.28,"y":1665},
      {"m":"PLA","g":"100% – 2 layers","r":2,"x":3.73,"y":1674},
      {"m":"PLA","g":"100% – 2 layers","r":2,"x":4.12,"y":1672},
      {"m":"PLA","g":"100% – 2 layers","r":2,"x":4.25,"y":1660},
      {"m":"PLA","g":"100% – 2 layers","r":2,"x":4.33,"y":1630},
      {"m":"PLA","g":"100% – 2 layers","r":2,"x":4.45,"y":1400},
      {"m":"PLA","g":"100% – 2 layers","r":2,"x":4.6,"y":1000},
      {"m":"PLA","g":"100% – 2 layers","r":2,"x":4.72,"y":700},
      {"m":"PLA","g":"100% – 2 layers","r":2,"x":4.8,"y":600},
      {"m":"PLA","g":"100% – 2 layers","r":2,"x":4.92,"y":500},
      {"m":"PLA","g":"100% – 2 layers","r":2,"x":5.1,"y":430},
      {"m":"PLA","g":"100% – 2 layers","r":2,"x":5.3,"y":380},
      {"m":"PLA","g":"100% – 2 layers","r":2,"x":5.55,"y":337},
      {"m":"PLA","g":"25% – 2 layers","r":1,"x":0,"y":0},
      {"m":"PLA","g":"25% – 2 layers","r":1,"x":0.4,"y":150},
      {"m":"PLA","g":"25% – 2 layers","r":1,"x":0.8,"y":260},
      {"m":"PLA","g":"25% – 2 layers","r":1,"x":1.2,"y":340},
      {"m":"PLA","g":"25% – 2 layers","r":1,"x":1.6,"y":400},
      {"m":"PLA","g":"25% – 2 layers","r":1,"x":2,"y":450},
      {"m":"PLA","g":"25% – 2 layers","r":1,"x":2.4,"y":490},
      {"m":"PLA","g":"25% – 2 layers","r":1,"x":3,"y":532},
      {"m":"PLA","g":"25% – 2 layers","r":1,"x":3.5,"y":553},
      {"m":"PLA","g":"25% – 2 layers","r":1,"x":4,"y":563},
      {"m":"PLA","g":"25% – 2 layers","r":1,"x":4.5,"y":567},
      {"m":"PLA","g":"25% – 2 layers","r":1,"x":5,"y":567},
      {"m":"PLA","g":"25% – 2 layers","r":1,"x":5.35,"y":564},
      {"m":"PLA","g":"25% – 2 layers","r":1,"x":5.6,"y":538},
      {"m":"PLA","g":"25% – 2 layers","r":1,"x":5.9,"y":508},
      {"m":"PLA","g":"25% – 2 layers","r":1,"x":5.97,"y":430},
      {"m":"PLA","g":"25% – 2 layers","r":1,"x":6.2,"y":385},
      {"m":"PLA","g":"25% – 2 layers","r":1,"x":6.45,"y":310},
      {"m":"PLA","g":"25% – 2 layers","r":1,"x":7,"y":260},
      {"m":"PLA","g":"25% – 2 layers","r":1,"x":7.5,"y":228},
      {"m":"PLA","g":"25% – 2 layers","r":1,"x":8,"y":188},
      {"m":"PLA","g":"25% – 2 layers","r":1,"x":8.5,"y":162},
      {"m":"PLA","g":"25% – 2 layers","r":1,"x":9,"y":142},
      {"m":"PLA","g":"25% – 2 layers","r":1,"x":9.5,"y":125},
      {"m":"PLA","g":"25% – 2 layers","r":1,"x":10,"y":110},
      {"m":"PLA","g":"25% – 2 layers","r":2,"x":0,"y":0},
      {"m":"PLA","g":"25% – 2 layers","r":2,"x":0.4,"y":145},
      {"m":"PLA","g":"25% – 2 layers","r":2,"x":0.8,"y":252},
      {"m":"PLA","g":"25% – 2 layers","r":2,"x":1.2,"y":328},
      {"m":"PLA","g":"25% – 2 layers","r":2,"x":1.6,"y":388},
      {"m":"PLA","g":"25% – 2 layers","r":2,"x":2,"y":432},
      {"m":"PLA","g":"25% – 2 layers","r":2,"x":2.4,"y":466},
      {"m":"PLA","g":"25% – 2 layers","r":2,"x":3,"y":505},
      {"m":"PLA","g":"25% – 2 layers","r":2,"x":3.5,"y":525},
      {"m":"PLA","g":"25% – 2 layers","r":2,"x":4,"y":535},
      {"m":"PLA","g":"25% – 2 layers","r":2,"x":4.5,"y":540},
      {"m":"PLA","g":"25% – 2 layers","r":2,"x":5,"y":541},
      {"m":"PLA","g":"25% – 2 layers","r":2,"x":5.5,"y":541},
      {"m":"PLA","g":"25% – 2 layers","r":2,"x":6,"y":538},
      {"m":"PLA","g":"25% – 2 layers","r":2,"x":6.5,"y":520},
      {"m":"PLA","g":"25% – 2 layers","r":2,"x":6.9,"y":495},
      {"m":"PLA","g":"25% – 2 layers","r":2,"x":7.2,"y":440},
      {"m":"PLA","g":"25% – 2 layers","r":2,"x":7.5,"y":415},
      {"m":"PLA","g":"25% – 2 layers","r":2,"x":8,"y":355},
      {"m":"PLA","g":"25% – 2 layers","r":2,"x":8.5,"y":300},
      {"m":"PLA","g":"25% – 2 layers","r":2,"x":8.9,"y":258},
      {"m":"PLA","g":"25% – 2 layers","r":2,"x":9.2,"y":195},
      {"m":"PLA","g":"25% – 2 layers","r":2,"x":9.4,"y":150},
      {"m":"PLA","g":"25% – 2 layers","r":2,"x":9.7,"y":125},
      {"m":"PLA","g":"25% – 2 layers","r":2,"x":10,"y":112},
      {"m":"PLA","g":"25% – 4 layers","r":1,"x":0,"y":0},
      {"m":"PLA","g":"25% – 4 layers","r":1,"x":0.5,"y":170},
      {"m":"PLA","g":"25% – 4 layers","r":1,"x":1,"y":333},
      {"m":"PLA","g":"25% – 4 layers","r":1,"x":1.5,"y":478},
      {"m":"PLA","g":"25% – 4 layers","r":1,"x":2,"y":602},
      {"m":"PLA","g":"25% – 4 layers","r":1,"x":2.5,"y":700},
      {"m":"PLA","g":"25% – 4 layers","r":1,"x":3,"y":757},
      {"m":"PLA","g":"25% – 4 layers","r":1,"x":3.5,"y":780},
      {"m":"PLA","g":"25% – 4 layers","r":1,"x":4,"y":785},
      {"m":"PLA","g":"25% – 4 layers","r":1,"x":4.5,"y":778},
      {"m":"PLA","g":"25% – 4 layers","r":1,"x":5,"y":768},
      {"m":"PLA","g":"25% – 4 layers","r":1,"x":5.5,"y":762},
      {"m":"PLA","g":"25% – 4 layers","r":1,"x":6,"y":755},
      {"m":"PLA","g":"25% – 4 layers","r":1,"x":6.5,"y":748},
      {"m":"PLA","g":"25% – 4 layers","r":1,"x":7,"y":742},
      {"m":"PLA","g":"25% – 4 layers","r":1,"x":7.5,"y":735},
      {"m":"PLA","g":"25% – 4 layers","r":1,"x":8,"y":712},
      {"m":"PLA","g":"25% – 4 layers","r":1,"x":8.5,"y":690},
      {"m":"PLA","g":"25% – 4 layers","r":1,"x":9,"y":672},
      {"m":"PLA","g":"25% – 4 layers","r":1,"x":9.5,"y":658},
      {"m":"PLA","g":"25% – 4 layers","r":1,"x":9.92,"y":645},
      {"m":"PLA","g":"25% – 4 layers","r":1,"x":9.97,"y":620},
      {"m":"PLA","g":"25% – 4 layers","r":1,"x":10,"y":570},
      {"m":"PLA","g":"25% – 4 layers","r":2,"x":0,"y":0},
      {"m":"PLA","g":"25% – 4 layers","r":2,"x":0.5,"y":168},
      {"m":"PLA","g":"25% – 4 layers","r":2,"x":1,"y":330},
      {"m":"PLA","g":"25% – 4 layers","r":2,"x":1.5,"y":475},
      {"m":"PLA","g":"25% – 4 layers","r":2,"x":2,"y":599},
      {"m":"PLA","g":"25% – 4 layers","r":2,"x":2.5,"y":697},
      {"m":"PLA","g":"25% – 4 layers","r":2,"x":3,"y":754},
      {"m":"PLA","g":"25% – 4 layers","r":2,"x":3.5,"y":778},
      {"m":"PLA","g":"25% – 4 layers","r":2,"x":4,"y":783},
      {"m":"PLA","g":"25% – 4 layers","r":2,"x":4.5,"y":776},
      {"m":"PLA","g":"25% – 4 layers","r":2,"x":5,"y":766},
      {"m":"PLA","g":"25% – 4 layers","r":2,"x":5.5,"y":760},
      {"m":"PLA","g":"25% – 4 layers","r":2,"x":6,"y":754},
      {"m":"PLA","g":"25% – 4 layers","r":2,"x":6.5,"y":747},
      {"m":"PLA","g":"25% – 4 layers","r":2,"x":7,"y":741},
      {"m":"PLA","g":"25% – 4 layers","r":2,"x":7.5,"y":733},
      {"m":"PLA","g":"25% – 4 layers","r":2,"x":7.6,"y":700},
      {"m":"PLA","g":"25% – 4 layers","r":2,"x":7.7,"y":560},
      {"m":"PLA","g":"25% – 4 layers","r":2,"x":7.8,"y":380},
      {"m":"PLA","g":"25% – 4 layers","r":2,"x":7.9,"y":270},
      {"m":"PLA","g":"25% – 4 layers","r":2,"x":8.1,"y":225},
      {"m":"PLA","g":"25% – 4 layers","r":2,"x":8.5,"y":195},
      {"m":"PLA","g":"25% – 4 layers","r":2,"x":9,"y":178},
      {"m":"PLA","g":"25% – 4 layers","r":2,"x":9.65,"y":160},
      {"m":"PLA","g":"5% – 2 layers","r":1,"x":0,"y":0},
      {"m":"PLA","g":"5% – 2 layers","r":1,"x":0.5,"y":65},
      {"m":"PLA","g":"5% – 2 layers","r":1,"x":1,"y":125},
      {"m":"PLA","g":"5% – 2 layers","r":1,"x":1.5,"y":165},
      {"m":"PLA","g":"5% – 2 layers","r":1,"x":2,"y":188},
      {"m":"PLA","g":"5% – 2 layers","r":1,"x":2.5,"y":196},
      {"m":"PLA","g":"5% – 2 layers","r":1,"x":3,"y":200},
      {"m":"PLA","g":"5% – 2 layers","r":1,"x":3.5,"y":202},
      {"m":"PLA","g":"5% – 2 layers","r":1,"x":4,"y":202},
      {"m":"PLA","g":"5% – 2 layers","r":1,"x":4.5,"y":199},
      {"m":"PLA","g":"5% – 2 layers","r":1,"x":5,"y":193},
      {"m":"PLA","g":"5% – 2 layers","r":1,"x":5.5,"y":186},
      {"m":"PLA","g":"5% – 2 layers","r":1,"x":6,"y":180},
      {"m":"PLA","g":"5% – 2 layers","r":1,"x":7,"y":170},
      {"m":"PLA","g":"5% – 2 layers","r":1,"x":8,"y":160},
      {"m":"PLA","g":"5% – 2 layers","r":1,"x":9,"y":150},
      {"m":"PLA","g":"5% – 2 layers","r":1,"x":10,"y":143},
      {"m":"PLA","g":"5% – 2 layers","r":2,"x":0,"y":0},
      {"m":"PLA","g":"5% – 2 layers","r":2,"x":0.5,"y":45},
      {"m":"PLA","g":"5% – 2 layers","r":2,"x":1,"y":100},
      {"m":"PLA","g":"5% – 2 layers","r":2,"x":1.5,"y":148},
      {"m":"PLA","g":"5% – 2 layers","r":2,"x":2,"y":178},
      {"m":"PLA","g":"5% – 2 layers","r":2,"x":2.5,"y":190},
      {"m":"PLA","g":"5% – 2 layers","r":2,"x":3,"y":195},
      {"m":"PLA","g":"5% – 2 layers","r":2,"x":3.5,"y":197},
      {"m":"PLA","g":"5% – 2 layers","r":2,"x":4,"y":197},
      {"m":"PLA","g":"5% – 2 layers","r":2,"x":4.5,"y":193},
      {"m":"PLA","g":"5% – 2 layers","r":2,"x":5,"y":185},
      {"m":"PLA","g":"5% – 2 layers","r":2,"x":6,"y":170},
      {"m":"PLA","g":"5% – 2 layers","r":2,"x":7,"y":156},
      {"m":"PLA","g":"5% – 2 layers","r":2,"x":8,"y":145},
      {"m":"PLA","g":"5% – 2 layers","r":2,"x":9,"y":135},
      {"m":"PLA","g":"5% – 2 layers","r":2,"x":10,"y":126},
      {"m":"PLA","g":"50% – 2 layers","r":1,"x":0,"y":0},
      {"m":"PLA","g":"50% – 2 layers","r":1,"x":0.5,"y":175},
      {"m":"PLA","g":"50% – 2 layers","r":1,"x":1,"y":340},
      {"m":"PLA","g":"50% – 2 layers","r":1,"x":1.5,"y":485},
      {"m":"PLA","g":"50% – 2 layers","r":1,"x":2,"y":610},
      {"m":"PLA","g":"50% – 2 layers","r":1,"x":2.5,"y":712},
      {"m":"PLA","g":"50% – 2 layers","r":1,"x":3,"y":778},
      {"m":"PLA","g":"50% – 2 layers","r":1,"x":3.5,"y":815},
      {"m":"PLA","g":"50% – 2 layers","r":1,"x":4,"y":832},
      {"m":"PLA","g":"50% – 2 layers","r":1,"x":4.5,"y":836},
      {"m":"PLA","g":"50% – 2 layers","r":1,"x":4.85,"y":826},
      {"m":"PLA","g":"50% – 2 layers","r":1,"x":4.9,"y":810},
      {"m":"PLA","g":"50% – 2 layers","r":1,"x":4.93,"y":783},
      {"m":"PLA","g":"50% – 2 layers","r":2,"x":0,"y":0},
      {"m":"PLA","g":"50% – 2 layers","r":2,"x":0.5,"y":172},
      {"m":"PLA","g":"50% – 2 layers","r":2,"x":1,"y":336},
      {"m":"PLA","g":"50% – 2 layers","r":2,"x":1.5,"y":480},
      {"m":"PLA","g":"50% – 2 layers","r":2,"x":2,"y":604},
      {"m":"PLA","g":"50% – 2 layers","r":2,"x":2.5,"y":705},
      {"m":"PLA","g":"50% – 2 layers","r":2,"x":3,"y":770},
      {"m":"PLA","g":"50% – 2 layers","r":2,"x":3.5,"y":806},
      {"m":"PLA","g":"50% – 2 layers","r":2,"x":4,"y":824},
      {"m":"PLA","g":"50% – 2 layers","r":2,"x":4.3,"y":829},
      {"m":"PLA","g":"50% – 2 layers","r":2,"x":4.35,"y":815},
      {"m":"PLA","g":"50% – 2 layers","r":2,"x":4.38,"y":693}
    ]
  },
  "vconcat": [
    {
      "title": {"text": "Travel [mm]", "orient": "bottom", "anchor": "middle", "fontSize": 56, "fontWeight": "normal", "offset": 18, "dx": 96},
      "vconcat": [
        {
          "title": {"text": "Force [N]", "orient": "left", "anchor": "middle", "fontSize": 58, "fontWeight": "normal", "offset": 12},
          "columns": 2,
          "spacing": {"row": 56, "column": 7},
          "resolve": {"scale": {"x": "independent", "y": "independent"}},
          "concat": [
            {
              "title": "ASA",
              "width": 693,
              "height": 687,
              "transform": [{"filter": "datum.m === 'ASA'"}],
              "mark": {"type": "line", "interpolate": "monotone", "strokeWidth": 5.5},
              "encoding": {
                "x": {"field": "x", "type": "quantitative", "title": null, "scale": {"domain": [-0.5, 10.5], "nice": false, "zero": false}, "axis": {"values": [0, 2.5, 5, 7.5, 10], "labels": false}},
                "y": {"field": "y", "type": "quantitative", "title": null, "scale": {"domain": [-57.1, 1199.1], "nice": false, "zero": false}, "axis": {"values": [0, 300, 600, 900], "format": "d"}},
                "color": {"field": "g", "type": "nominal", "scale": {"domain": ["100% – 2 layers", "25% – 2 layers", "25% – 4 layers", "5% – 2 layers", "50% – 2 layers"], "range": ["#F8766D", "#A3A500", "#00BF7D", "#00B0F6", "#E76BF3"]}, "legend": {"title": "Infill & Outer layers", "orient": "none", "legendX": 1636, "legendY": 509}},
                "detail": {"field": "r", "type": "nominal"}
              }
            },
            {
              "title": "PC",
              "width": 693,
              "height": 687,
              "transform": [{"filter": "datum.m === 'PC'"}],
              "mark": {"type": "line", "interpolate": "monotone", "strokeWidth": 5.5},
              "encoding": {
                "x": {"field": "x", "type": "quantitative", "title": null, "scale": {"domain": [-0.5, 10.5], "nice": false, "zero": false}, "axis": {"values": [0, 2.5, 5, 7.5, 10], "labels": false}},
                "y": {"field": "y", "type": "quantitative", "title": null, "scale": {"domain": [-80, 1680], "nice": false, "zero": false}, "axis": {"values": [0, 500, 1000, 1500], "format": "d"}},
                "color": {"field": "g", "type": "nominal", "scale": {"domain": ["100% – 2 layers", "25% – 2 layers", "25% – 4 layers", "5% – 2 layers", "50% – 2 layers"], "range": ["#F8766D", "#A3A500", "#00BF7D", "#00B0F6", "#E76BF3"]}, "legend": {"title": "Infill & Outer layers", "orient": "none", "legendX": 1636, "legendY": 509}},
                "detail": {"field": "r", "type": "nominal"}
              }
            },
            {
              "title": "PETG",
              "width": 693,
              "height": 687,
              "transform": [{"filter": "datum.m === 'PETG'"}],
              "mark": {"type": "line", "interpolate": "monotone", "strokeWidth": 5.5},
              "encoding": {
                "x": {"field": "x", "type": "quantitative", "title": null, "scale": {"domain": [-0.5, 10.5], "nice": false, "zero": false}, "axis": {"values": [0, 2.5, 5, 7.5, 10], "format": ".1f"}},
                "y": {"field": "y", "type": "quantitative", "title": null, "scale": {"domain": [-50.4, 1058.4], "nice": false, "zero": false}, "axis": {"values": [0, 250, 500, 750, 1000], "format": "d"}},
                "color": {"field": "g", "type": "nominal", "scale": {"domain": ["100% – 2 layers", "25% – 2 layers", "25% – 4 layers", "5% – 2 layers", "50% – 2 layers"], "range": ["#F8766D", "#A3A500", "#00BF7D", "#00B0F6", "#E76BF3"]}, "legend": {"title": "Infill & Outer layers", "orient": "none", "legendX": 1636, "legendY": 509}},
                "detail": {"field": "r", "type": "nominal"}
              }
            },
            {
              "title": "PLA",
              "width": 693,
              "height": 687,
              "transform": [{"filter": "datum.m === 'PLA'"}],
              "mark": {"type": "line", "interpolate": "monotone", "strokeWidth": 5.5},
              "encoding": {
                "x": {"field": "x", "type": "quantitative", "title": null, "scale": {"domain": [-0.5, 10.5], "nice": false, "zero": false}, "axis": {"values": [0, 2.5, 5, 7.5, 10], "format": ".1f"}},
                "y": {"field": "y", "type": "quantitative", "title": null, "scale": {"domain": [-83.9, 1760.9], "nice": false, "zero": false}, "axis": {"values": [0, 500, 1000, 1500], "format": "d"}},
                "color": {"field": "g", "type": "nominal", "scale": {"domain": ["100% – 2 layers", "25% – 2 layers", "25% – 4 layers", "5% – 2 layers", "50% – 2 layers"], "range": ["#F8766D", "#A3A500", "#00BF7D", "#00B0F6", "#E76BF3"]}, "legend": {"title": "Infill & Outer layers", "orient": "none", "legendX": 1636, "legendY": 509}},
                "detail": {"field": "r", "type": "nominal"}
              }
            }
          ]
        }
      ]
    }
  ],
  "config": {
    "font": "Open Sans",
    "view": {"stroke": null},
    "title": {"font": "Open Sans", "fontSize": 52, "fontWeight": "bold", "color": "#000000", "offset": 18},
    "axis": {
      "grid": true,
      "gridColor": "#EBEBEB",
      "gridWidth": 2.2,
      "domain": false,
      "ticks": false,
      "labelFont": "Open Sans",
      "labelFontSize": 49,
      "labelColor": "#4D4D4D",
      "labelOverlap": false,
      "labelFlush": false
    },
    "axisX": {"labelPadding": 20},
    "axisY": {"labelPadding": 26},
    "legend": {
      "titleFont": "Open Sans",
      "titleFontSize": 54,
      "titleFontWeight": "normal",
      "titleColor": "#000000",
      "titleLimit": 700,
      "titlePadding": 34,
      "labelFont": "Open Sans",
      "labelFontSize": 46,
      "labelColor": "#000000",
      "labelLimit": 600,
      "labelOffset": 31,
      "symbolType": "stroke",
      "symbolStrokeWidth": 6,
      "symbolSize": 4489,
      "rowPadding": 21,
      "padding": 0
    }
  }
}
